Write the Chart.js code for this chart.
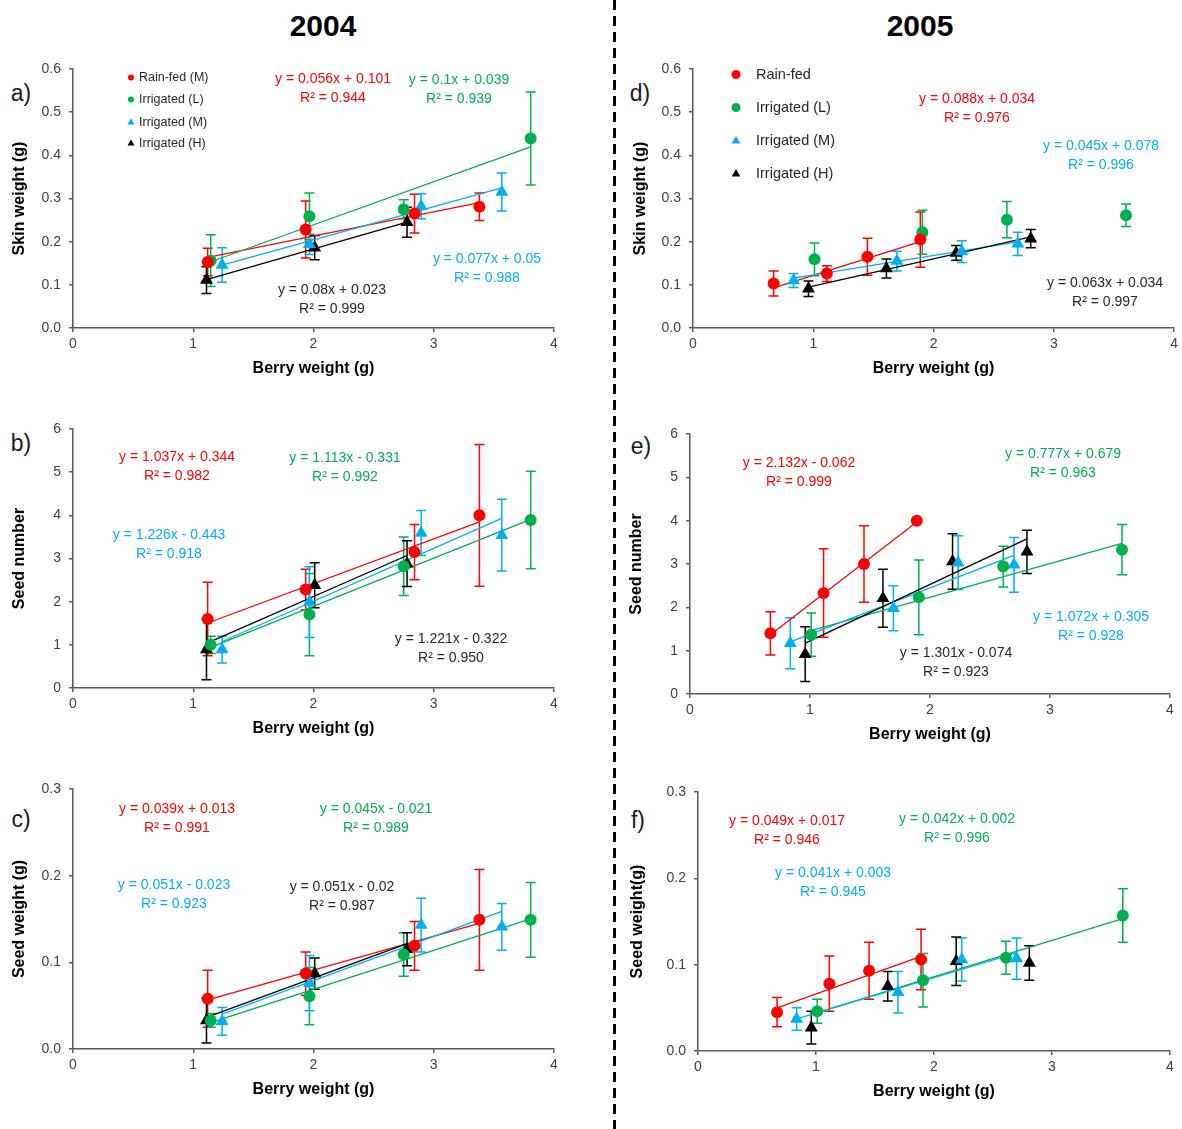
<!DOCTYPE html>
<html lang="en">
<head>
<meta charset="UTF-8">
<title>Berry weight vs skin weight, seed number and seed weight</title>
<script src="https://cdn.jsdelivr.net/npm/chart.js"></script>
<style>
    body {
        margin: 0;
        background: #fff;
        font-family: 'Liberation Sans', Arial, sans-serif;
    }
    #page {
        position: relative;
        width: 1182px;
        height: 1129px;
        overflow: hidden;
    }
    canvas {
        position: absolute;
    }
    .year {
        position: absolute;
        font-size: 30px;
        font-weight: bold;
        color: #000;
        transform: translate(-50%, -50%);
    }
    .tag {
        position: absolute;
        font-size: 23px;
        color: #1a1a1a;
        transform: translate(-50%, -50%);
    }
    #divider {
        position: absolute;
        left: 613px;
        top: 0;
        width: 3px;
        height: 1129px;
        background: repeating-linear-gradient(to bottom, #000 0 10px, transparent 10px 16px);
    }
</style>
</head>
<body>
<div id="page">
    <div class="year" style="left:323px; top:26px;">2004</div>
    <div class="year" style="left:920px; top:26px;">2005</div>
    <div id="divider"></div>
</div>

<script>
    // series order everywhere: Rain-fed, Irrigated (L), Irrigated (M), Irrigated (H)
    const names2004 = ['Rain-fed (M)', 'Irrigated (L)', 'Irrigated (M)', 'Irrigated (H)'];
    const names2005 = ['Rain-fed', 'Irrigated (L)', 'Irrigated (M)', 'Irrigated (H)'];

    // berry weight (g)
    const berry2004 = [
        [1.12, 1.935, 2.84, 3.38],
        [1.145, 1.966, 2.75, 3.806],
        [1.24, 1.966, 2.895, 3.566],
        [1.11, 2.01, 2.778]
    ];
    const berry2005 = [
        [0.67, 1.113, 1.45, 1.89],
        [1.01, 1.907, 2.61, 3.60],
        [0.836, 1.695, 2.235, 2.70],
        [0.96, 1.608, 2.188, 2.808]
    ];

    // skin weight (g)
    const skin2004 = [
        [0.153, 0.228, 0.265, 0.281],
        [0.156, 0.259, 0.275, 0.439],
        [0.146, 0.194, 0.282, 0.315],
        [0.111, 0.186, 0.245]
    ];
    const skin2004Err = [
        [0.032, 0.066, 0.045, 0.032],
        [0.060, 0.054, 0.022, 0.108],
        [0.040, 0.024, 0.029, 0.044],
        [0.031, 0.028, 0.035]
    ];
    const skin2005 = [
        [0.103, 0.126, 0.165, 0.205],
        [0.159, 0.222, 0.251, 0.261],
        [0.110, 0.155, 0.177, 0.195],
        [0.091, 0.138, 0.174, 0.207]
    ];
    const skin2005Err = [
        [0.029, 0.018, 0.043, 0.064],
        [0.038, 0.051, 0.042, 0.026],
        [0.016, 0.023, 0.025, 0.027],
        [0.018, 0.022, 0.017, 0.021]
    ];

    // seed number
    const seedNum2004 = [
        [1.60, 2.28, 3.15, 4.00],
        [1.00, 1.70, 2.82, 3.89],
        [0.89, 1.99, 3.59, 3.54],
        [0.89, 2.38, 2.88]
    ];
    const seedNum2004Err = [
        [0.85, 0.47, 0.64, 1.64],
        [0.20, 0.95, 0.68, 1.13],
        [0.31, 0.82, 0.52, 0.83],
        [0.70, 0.52, 0.53]
    ];
    const seedNum2005 = [
        [1.40, 2.33, 3.00, 4.00],
        [1.37, 2.23, 2.94, 3.33],
        [1.17, 1.98, 3.03, 2.98],
        [0.92, 2.21, 3.06, 3.28]
    ];
    const seedNum2005Err = [
        [0.50, 1.02, 0.88, 0],
        [0.50, 0.86, 0.47, 0.58],
        [0.59, 0.52, 0.62, 0.63],
        [0.63, 0.67, 0.64, 0.50]
    ];

    // seed weight (g)
    const seedWt2004 = [
        [0.058, 0.087, 0.119, 0.149],
        [0.033, 0.061, 0.109, 0.149],
        [0.032, 0.076, 0.143, 0.141],
        [0.033, 0.087, 0.115]
    ];
    const seedWt2004Err = [
        [0.033, 0.025, 0.028, 0.058],
        [0.008, 0.033, 0.025, 0.043],
        [0.016, 0.032, 0.031, 0.027],
        [0.026, 0.018, 0.019]
    ];
    const seedWt2005 = [
        [0.045, 0.078, 0.093, 0.106],
        [0.046, 0.082, 0.108, 0.157],
        [0.037, 0.068, 0.106, 0.107],
        [0.027, 0.075, 0.104, 0.102]
    ];
    const seedWt2005Err = [
        [0.017, 0.032, 0.033, 0.035],
        [0.014, 0.031, 0.019, 0.031],
        [0.013, 0.024, 0.025, 0.024],
        [0.019, 0.017, 0.028, 0.020]
    ];

    // linear fits as printed on the chart: [slope, intercept] and R²
    const skin2004Fit = [[0.056, 0.101], [0.1, 0.039], [0.077, 0.05], [0.08, 0.023]];
    const skin2004R2 = ['0.944', '0.939', '0.988', '0.999'];
    const skin2005Fit = [[0.088, 0.034], null, [0.045, 0.078], [0.063, 0.034]];
    const skin2005R2 = ['0.976', null, '0.996', '0.997'];
    const seedNum2004Fit = [[1.037, 0.344], [1.113, -0.331], [1.226, -0.443], [1.221, -0.322]];
    const seedNum2004R2 = ['0.982', '0.992', '0.918', '0.950'];
    const seedNum2005Fit = [[2.132, -0.062], [0.777, 0.679], [1.072, 0.305], [1.301, -0.074]];
    const seedNum2005R2 = ['0.999', '0.963', '0.928', '0.923'];
    const seedWt2004Fit = [[0.039, 0.013], [0.045, -0.021], [0.051, -0.023], [0.051, -0.02]];
    const seedWt2004R2 = ['0.991', '0.989', '0.923', '0.987'];
    const seedWt2005Fit = [[0.049, 0.017], [0.042, 0.002], [0.041, 0.003], null];
    const seedWt2005R2 = ['0.946', '0.996', '0.945', null];

    const colors = ['#FF0000', '#00B050', '#00B0F0', '#000000'];
    const shapes = ['circle', 'circle', 'triangle', 'triangle'];

    Chart.defaults.font.family = "'Liberation Sans', Arial, sans-serif";

    // page layout: canvas box [left, top, w, h], plot area [left, top, right, bottom]
    const panels = [
        { tag: 'a)', tagPos: [21, 93], box: [0, 50, 600, 335], area: [73, 69, 554, 328], yMax: 0.6, yStep: 0.1, dec: 1,
          yTitle: 'Skin weight (g)', titleX: 20, xs: berry2004, ys: skin2004, errs: skin2004Err, fits: skin2004Fit, r2: skin2004R2,
          eqPos: [[333, 79], [459, 80], [487, 259], [332, 290]],
          legend: { names: names2004, x: 131, textX: 139, rows: [77.5, 99.5, 122.5, 143.5], size: 12.5, r: [3, 3, 4, 4] } },
        { tag: 'b)', tagPos: [21, 443], box: [0, 410, 600, 335], area: [73, 429, 554, 688], yMax: 6, yStep: 1, dec: 0,
          yTitle: 'Seed number', titleX: 20, xs: berry2004, ys: seedNum2004, errs: seedNum2004Err, fits: seedNum2004Fit, r2: seedNum2004R2,
          eqPos: [[177, 457], [345, 458], [169, 535], [451, 639]] },
        { tag: 'c)', tagPos: [21, 819], box: [0, 770, 600, 335], area: [73, 789, 554, 1049], yMax: 0.3, yStep: 0.1, dec: 1,
          yTitle: 'Seed weight (g)', titleX: 20, xs: berry2004, ys: seedWt2004, errs: seedWt2004Err, fits: seedWt2004Fit, r2: seedWt2004R2,
          eqPos: [[177, 809], [376, 809], [174, 885], [342, 887]] },
        { tag: 'd)', tagPos: [640, 93], box: [620, 50, 562, 335], area: [693, 69, 1175, 328], yMax: 0.6, yStep: 0.1, dec: 1,
          yTitle: 'Skin weight (g)', titleX: 641, xs: berry2005, ys: skin2005, errs: skin2005Err, fits: skin2005Fit, r2: skin2005R2,
          eqPos: [[977, 99], null, [1101, 146], [1105, 283]],
          legend: { names: names2005, x: 736, textX: 756, rows: [74.5, 107.5, 141, 174], size: 14.5, r: [4.5, 4.5, 5, 5] } },
        { tag: 'e)', tagPos: [641, 446], box: [620, 415, 562, 335], area: [690, 434, 1170, 694], yMax: 6, yStep: 1, dec: 0,
          yTitle: 'Seed number', titleX: 637, xs: berry2005, ys: seedNum2005, errs: seedNum2005Err, fits: seedNum2005Fit, r2: seedNum2005R2,
          eqPos: [[799, 463], [1063, 454], [1091, 617], [956, 653]] },
        { tag: 'f)', tagPos: [638, 820], box: [620, 773, 562, 335], area: [698, 792, 1170, 1051], yMax: 0.3, yStep: 0.1, dec: 1,
          yTitle: 'Seed weight(g)', titleX: 638, xs: berry2005, ys: seedWt2005, errs: seedWt2005Err, fits: seedWt2005Fit, r2: seedWt2005R2,
          eqPos: [[787, 821], [957, 819], [833, 873], null] }
    ];

    const X_AXIS_H = 50;

    function drawShape(ctx, shape, x, y, r) {
        ctx.beginPath();
        if (shape === 'circle') {
            ctx.arc(x, y, r, 0, Math.PI * 2);
        } else {
            for (let k = 0; k < 3; k++) {
                const a = k * 2 * Math.PI / 3;
                const px = x + Math.sin(a) * r, py = y - Math.cos(a) * r;
                if (k === 0) ctx.moveTo(px, py); else ctx.lineTo(px, py);
            }
            ctx.closePath();
        }
        ctx.fill();
    }

    const errorBars = {
        id: 'errorBars',
        beforeDatasetsDraw(chart) {
            const { ctx, scales: { x, y } } = chart;
            ctx.save();
            ctx.lineWidth = 1.5;
            chart.data.datasets.forEach(ds => {
                if (!ds.errors) return;
                ctx.strokeStyle = ds.borderColor;
                ds.data.forEach((pt, i) => {
                    const e = ds.errors[i];
                    if (!e) return;
                    const px = x.getPixelForValue(pt.x);
                    const hi = y.getPixelForValue(pt.y + e);
                    const lo = y.getPixelForValue(pt.y - e);
                    ctx.beginPath();
                    ctx.moveTo(px, hi); ctx.lineTo(px, lo);
                    ctx.moveTo(px - 5, hi); ctx.lineTo(px + 5, hi);
                    ctx.moveTo(px - 5, lo); ctx.lineTo(px + 5, lo);
                    ctx.stroke();
                });
            });
            ctx.restore();
        }
    };

    const panelText = {
        id: 'panelText',
        afterDatasetsDraw(chart, args, opts) {
            const p = opts.panel;
            const ctx = chart.ctx;
            const ox = p.box[0], oy = p.box[1];
            ctx.save();
            ctx.textBaseline = 'middle';
            ctx.textAlign = 'center';
            ctx.font = "14px 'Liberation Sans', Arial, sans-serif";
            p.fits.forEach((f, s) => {
                if (!f || !p.eqPos[s]) return;
                const [cx, cy] = p.eqPos[s];
                const sign = f[1] < 0 ? '-' : '+';
                ctx.fillStyle = s === 3 ? '#262626' : colors[s];
                ctx.fillText(`y = ${f[0]}x ${sign} ${Math.abs(f[1])}`, cx - ox, cy - oy);
                ctx.fillText(`R² = ${p.r2[s]}`, cx - ox, cy + 19 - oy);
            });
            if (p.legend) {
                const lg = p.legend;
                ctx.textAlign = 'left';
                ctx.font = `${lg.size}px 'Liberation Sans', Arial, sans-serif`;
                lg.names.forEach((name, s) => {
                    ctx.fillStyle = colors[s];
                    drawShape(ctx, shapes[s], lg.x - ox, lg.rows[s] - oy, lg.r[s]);
                    ctx.fillStyle = '#262626';
                    ctx.fillText(name, lg.textX - ox, lg.rows[s] - oy);
                });
            }
            ctx.restore();
        }
    };

    const page = document.getElementById('page');

    panels.forEach(p => {
        const tag = document.createElement('div');
        tag.className = 'tag';
        tag.textContent = p.tag;
        tag.style.left = p.tagPos[0] + 'px';
        tag.style.top = p.tagPos[1] + 'px';
        page.appendChild(tag);

        const canvas = document.createElement('canvas');
        canvas.width = p.box[2];
        canvas.height = p.box[3];
        canvas.style.left = p.box[0] + 'px';
        canvas.style.top = p.box[1] + 'px';
        page.appendChild(canvas);

        const datasets = [];
        p.ys.forEach((ys, s) => {
            datasets.push({
                label: (p.xs === berry2004 ? names2004 : names2005)[s],
                data: p.xs[s].map((x, i) => ({ x, y: ys[i] })),
                errors: p.errs[s],
                pointStyle: shapes[s],
                pointRadius: shapes[s] === 'circle' ? 6 : 7.5,
                backgroundColor: colors[s],
                borderColor: colors[s],
                borderWidth: 0,
                showLine: false
            });
        });
        // trend lines pushed in reverse so the later series end up on top
        for (let s = p.fits.length - 1; s >= 0; s--) {
            const f = p.fits[s];
            if (!f) continue;
            const x0 = Math.min(...p.xs[s]), x1 = Math.max(...p.xs[s]);
            datasets.push({
                data: [{ x: x0, y: f[0] * x0 + f[1] }, { x: x1, y: f[0] * x1 + f[1] }],
                showLine: true,
                borderColor: colors[s],
                borderWidth: 1.3,
                pointRadius: 0,
                fill: false
            });
        }

        const tickColor = '#404040';
        const axisColor = '#595959';

        new Chart(canvas.getContext('2d'), {
            type: 'scatter',
            data: { datasets },
            options: {
                responsive: false,
                animation: false,
                layout: {
                    padding: {
                        left: 0,
                        top: p.area[1] - p.box[1],
                        right: p.box[0] + p.box[2] - p.area[2],
                        bottom: p.box[1] + p.box[3] - p.area[3] - X_AXIS_H
                    }
                },
                plugins: {
                    legend: { display: false },
                    tooltip: { enabled: false },
                    panelText: { panel: p }
                },
                scales: {
                    x: {
                        type: 'linear',
                        min: 0,
                        max: 4,
                        ticks: { stepSize: 1, color: tickColor, font: { size: 14 }, padding: 4 },
                        grid: { drawOnChartArea: false, drawTicks: true, tickLength: 4, color: axisColor, lineWidth: 1.5 },
                        border: { color: axisColor, width: 1.5 },
                        title: { display: true, text: 'Berry weight (g)', color: '#000', font: { size: 16, weight: 'bold' }, padding: { top: 0, bottom: 0 } },
                        afterFit: s => { s.height = X_AXIS_H; }
                    },
                    y: {
                        type: 'linear',
                        min: 0,
                        max: p.yMax,
                        ticks: { stepSize: p.yStep, color: tickColor, font: { size: 14 }, padding: 8, callback: v => Number(v).toFixed(p.dec) },
                        grid: { drawOnChartArea: false, drawTicks: true, tickLength: 4, color: axisColor, lineWidth: 1.5 },
                        border: { color: axisColor, width: 1.5 },
                        title: { display: true, text: p.yTitle, color: '#000', font: { size: 16, weight: 'bold' }, padding: { top: p.titleX - p.box[0] - 9.6, bottom: 0 } },
                        afterFit: s => { s.width = p.area[0] - p.box[0]; }
                    }
                }
            },
            plugins: [errorBars, panelText]
        });
    });
</script>
</body>
</html>
